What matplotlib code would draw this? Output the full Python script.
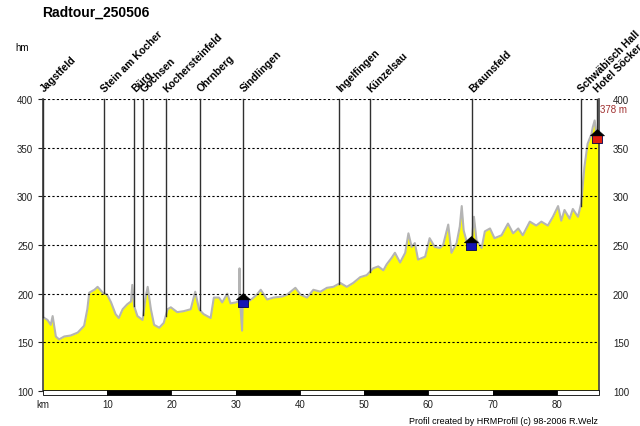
import numpy as np
import matplotlib.pyplot as plt
from matplotlib.path import Path
from matplotlib.patches import Rectangle

plt.rcParams['font.family'] = ['Liberation Sans', 'DejaVu Sans']

# elevation profile (km, m)
prof_km = [0.0, 0.2, 0.7, 1.2, 1.5, 2.0, 2.5, 3.3, 4.3, 5.4, 6.4, 6.9, 7.2, 8.0, 8.5, 9.3,
           10.0, 10.6, 11.3, 11.8, 12.4, 13.1, 13.7, 13.9, 14.2, 14.7, 15.5, 16.0, 16.3, 16.8,
           17.3, 18.1, 18.8, 19.4, 19.9, 20.9, 21.9, 23.0, 23.7, 24.3, 25.0, 26.1, 26.6, 27.4,
           27.9, 28.7, 29.2, 30.0, 30.5, 30.6, 30.7, 31.0, 31.1, 31.8, 32.6, 33.3, 33.9, 34.9,
           35.9, 37.2, 38.0, 39.3, 40.1, 41.1, 42.1, 43.2, 44.2, 45.2, 46.3, 47.3, 48.3, 49.4,
           50.4, 51.4, 52.2, 53.0, 53.5, 54.3, 54.8, 55.6, 56.4, 56.9, 57.4, 57.9, 58.4, 59.5,
           60.2, 61.0, 61.8, 62.3, 63.1, 63.6, 64.4, 64.9, 65.2, 65.5, 66.2, 66.7, 67.1, 67.5,
           68.3, 68.8, 69.6, 70.3, 71.4, 72.4, 73.2, 74.0, 74.7, 75.8, 76.8, 77.6, 78.6, 79.4,
           80.2, 80.7, 81.2, 82.0, 82.5, 83.3, 83.8, 84.3, 84.8, 85.4, 85.6, 85.9, 86.1, 86.5]
prof_elev = [176, 175, 173, 168, 177, 156, 153, 156, 157, 160, 167, 184, 201, 204, 207, 201,
             199, 191, 179, 175, 184, 189, 192, 209, 187, 177, 173, 197, 207, 184,
             168, 165, 170, 184, 186, 181, 182, 184, 202, 184, 179, 175, 196, 196,
             191, 200, 190, 191, 192, 226, 191, 162, 192, 191, 195, 199, 204, 194,
             196, 197, 199, 206, 199, 196, 204, 202, 206, 207, 211, 207, 211, 217,
             219, 226, 228, 224, 230, 237, 242, 232, 242, 262, 248, 252, 235, 238,
             257, 248, 247, 250, 271, 242, 252, 269, 290, 265, 248, 250, 279, 255,
             247, 264, 267, 257, 260, 272, 262, 267, 260, 274, 270, 274, 270, 279,
             290, 275, 286, 277, 287, 279, 293, 330, 354, 364, 371, 378, 367, 362]

places = ["Jagstfeld", "Stein am Kocher", "Bürg", "Gochsen", "Kochersteinfeld", "Ohrnberg",
          "Sindlingen", "Ingelfingen", "Künzelsau", "Braunsfeld", "Schwäbisch Hall",
          "Hotel Söcker"]
place_km = [0.0, 9.5, 14.2, 15.6, 19.1, 24.4, 31.2, 46.1, 50.9, 66.8, 83.7, 86.2]

house_km = [31.2, 66.7, 86.3]
house_elev = [193, 252, 362]
house_col = ['#1414b4', '#1414b4', '#e02010']

yticks = [100, 150, 200, 250, 300, 350, 400]
xticks = [0, 10, 20, 30, 40, 50, 60, 70, 80]
xlabels = ['km', '10', '20', '30', '40', '50', '60', '70', '80']

fig = plt.figure(figsize=(6.4, 4.27), dpi=100)
ax = fig.add_axes([0.0672, 0.082, 0.869, 0.6838])
ax.set_xlim(0, 86.6)
ax.set_ylim(100, 400)

ax.fill_between(prof_km, prof_elev, 100, color='#ffff00', lw=0, zorder=1)
ax.plot(prof_km, prof_elev, color='#b4b4b4', lw=1.5, zorder=2)

for y in yticks[1:]:
    ax.axhline(y, color='black', lw=0.8, ls=(0, (2, 2)), zorder=3)

# place lines and names
for name, pk in zip(places, place_km):
    base = np.interp(pk, prof_km, prof_elev)
    ax.plot([pk, pk], [base, 400], color='#303030', lw=1, zorder=4, clip_on=False)
    ax.annotate(name, xy=(pk, 400), xytext=(2, 4), textcoords='offset points',
                rotation=45, rotation_mode='anchor', ha='left', va='bottom',
                fontsize=7.5, fontweight='bold', annotation_clip=False)

# little houses
roof = Path([(-1, 0.1), (1, 0.1), (0, 1), (-1, 0.1)])
body = Path([(-0.75, -1), (0.75, -1), (0.75, 0.1), (-0.75, 0.1), (-0.75, -1)])
for hk, he, hc in zip(house_km, house_elev, house_col):
    ax.plot(hk, he, marker=body, ms=10, mfc=hc, mec='#000050', mew=0.6, zorder=6, clip_on=False)
    ax.plot(hk, he, marker=roof, ms=10, mfc='black', mec='black', mew=0.5, zorder=6, clip_on=False)

# km scale bar along the bottom
xmax = ax.get_xlim()[1]
for i, x0 in enumerate(xticks):
    w = min(10, xmax - x0)
    ax.add_patch(Rectangle((x0, 95.5), w, 5, facecolor='black' if i % 2 else 'white',
                           edgecolor='black', lw=0.6, clip_on=False, zorder=5))

for s in ['top', 'bottom']:
    ax.spines[s].set_visible(False)
for s in ['left', 'right']:
    ax.spines[s].set_color('#404040')
    ax.spines[s].set_linewidth(1.2)

ax.set_yticks(yticks)
ax.set_xticks(xticks)
ax.set_xticklabels(xlabels)
ax.tick_params(axis='y', length=3.5, pad=3.5, labelsize=7, colors='#202020', width=0.8)
ax.tick_params(axis='x', length=0, pad=6, labelsize=7, colors='#202020')

ax2 = ax.twinx()
ax2.set_ylim(100, 400)
ax2.set_yticks(yticks)
ax2.tick_params(axis='y', length=0, pad=10, labelsize=7, colors='#202020')
for s in ax2.spines.values():
    s.set_visible(False)

ax.text(xmax + 0.2, 390, f"{max(prof_elev)} m", color='#a03030', fontsize=7,
        ha='left', va='center', clip_on=False)

fig.text(0.066, 1 - 13 / 427, 'Radtour_250506', fontsize=10, fontweight='bold',
         ha='left', va='center')
fig.text(15 / 640, 1 - 48 / 427, 'hm', fontsize=7, ha='left', va='center')
fig.text(598 / 640, 1 - 422 / 427, 'Profil created by HRMProfil (c) 98-2006 R.Welz',
         fontsize=6.5, ha='right', va='center')

fig.savefig('out.png', dpi=100)
